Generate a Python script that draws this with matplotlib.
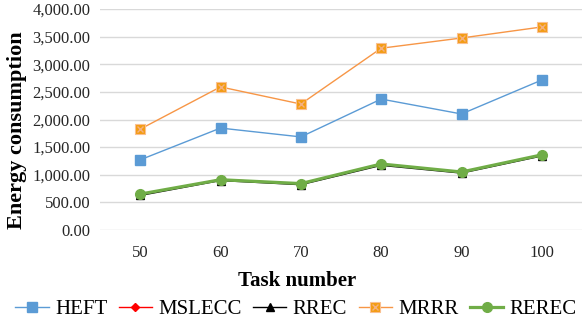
import matplotlib.pyplot as plt
from matplotlib.legend_handler import HandlerTuple

# data
tasks = [50, 60, 70, 80, 90, 100]
heft = [1270, 1845, 1685, 2370, 2100, 2715]
mslecc = [645, 915, 840, 1190, 1045, 1355]
rrec = [625, 895, 820, 1170, 1030, 1340]
mrrr = [1825, 2590, 2280, 3290, 3475, 3675]
rerec = [650, 910, 840, 1195, 1050, 1360]
yticks = [0, 500, 1000, 1500, 2000, 2500, 3000, 3500, 4000]

plt.rcParams['font.family'] = ['Liberation Serif', 'DejaVu Serif']

fig = plt.figure(figsize=(5.82, 3.27), dpi=100)
ax = fig.add_axes([100 / 582, 97 / 327, 482 / 582, 221 / 327])

x = list(range(len(tasks)))

h1, = ax.plot(x, heft, color='#5B9BD5', lw=1.0, marker='s', ms=6.5, zorder=3)
h2, = ax.plot(x, mslecc, color='#FF0000', lw=1.0, marker='D', ms=4, zorder=3)
h3, = ax.plot(x, rrec, color='#000000', lw=1.0, marker='^', ms=6, zorder=3)
h4, = ax.plot(x, mrrr, color='#F79646', lw=1.0, marker='s', ms=7,
              mfc='#F39C12', mec='#FAC090', mew=0.8, zorder=3)
h4x, = ax.plot(x, mrrr, ls='none', marker='x', ms=5, mec='#F4B183', mew=1.0, zorder=4)
h5, = ax.plot(x, rerec, color='#70AD47', lw=2.3, marker='o', ms=7, zorder=5)

ax.set_xlim(-0.5, len(tasks) - 0.5)
ax.set_ylim(0, 4000)
ax.set_xticks(x)
ax.set_xticklabels([str(t) for t in tasks])
ax.set_yticks(yticks)
ax.set_yticklabels(['{:,.2f}'.format(v) for v in yticks])
ax.tick_params(length=0, labelsize=12, colors='#262626')
ax.tick_params(axis='x', pad=11)
ax.tick_params(axis='y', pad=7)
ax.grid(axis='y', color='#D9D9D9', lw=1.0)
ax.set_axisbelow(True)
for s in ax.spines.values():
    s.set_visible(False)

fig.text(297 / 582, 1 - 281 / 327, 'Task number', fontsize=15, fontweight='bold',
         ha='center', va='center')
fig.text(17 / 582, 1 - 130 / 327, 'Energy consumption', fontsize=16, fontweight='bold',
         rotation=90, ha='center', va='center')

fig.legend([h1, h2, h3, (h4, h4x), h5], ['HEFT', 'MSLECC', 'RREC', 'MRRR', 'REREC'],
           handler_map={tuple: HandlerTuple(ndivide=1)},
           loc='center', bbox_to_anchor=(296 / 582, 1 - 309 / 327), ncol=5, frameon=False,
           fontsize=15, handlelength=1.6, handletextpad=0.3, columnspacing=0.55,
           borderpad=0, borderaxespad=0)

fig.savefig('out.png', dpi=100)
